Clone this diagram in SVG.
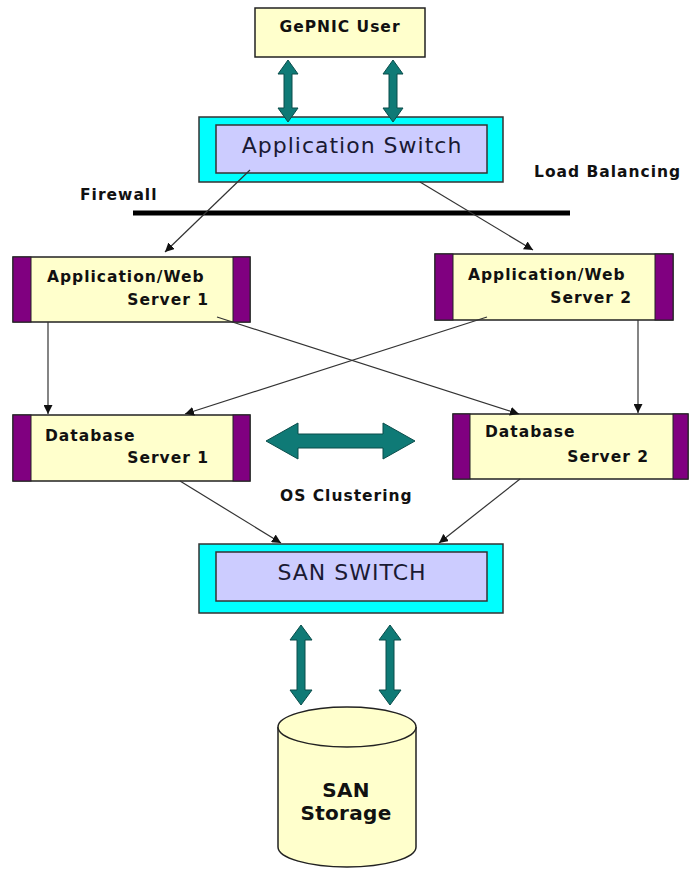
<svg xmlns="http://www.w3.org/2000/svg" width="689" height="871" viewBox="0 0 689 871">
<style>
.lbl{font-family:"DejaVu Sans",Verdana,sans-serif;font-weight:bold;font-size:15.5px;letter-spacing:1px;fill:#111}
.sw{font-family:"DejaVu Sans",Verdana,sans-serif;font-size:22px;letter-spacing:1px;fill:#1a1a33}
.node{fill:#ffffcc;stroke:#222;stroke-width:1.5}
.bar{fill:#800080;stroke:#222;stroke-width:1}
.outer{fill:#00ffff;stroke:#333;stroke-width:1.5}
.inner{fill:#ccccff;stroke:#333;stroke-width:1.5}
.big{fill:#0f7a76;stroke:#0a4d4b;stroke-width:1}
.con{stroke:#333;stroke-width:1.2;fill:none;marker-end:url(#ah)}
</style>
<defs>
<marker id="ah" viewBox="0 0 10 10" refX="10" refY="5" markerWidth="9" markerHeight="9" markerUnits="userSpaceOnUse" orient="auto">
<path d="M0,0 L10,5 L0,10 Z" fill="#111"/>
</marker>
</defs>
<rect width="689" height="871" fill="#fff"/>

<g id="user">
<rect class="node" x="255" y="8" width="170" height="49"/>
<text class="lbl" x="340" y="32" text-anchor="middle">GePNIC User</text>
</g>

<g id="appswitch">
<rect class="outer" x="199" y="117" width="304" height="65"/>
<rect class="inner" x="216" y="125" width="271" height="48"/>
<text class="sw" x="352" y="153" text-anchor="middle">Application Switch</text>
</g>

<g id="firewall">
<line x1="133" y1="213" x2="570" y2="213" stroke="#000" stroke-width="5"/>
<text class="lbl" x="80" y="200">Firewall</text>
</g>
<text class="lbl" x="534" y="177">Load Balancing</text>

<g id="app1">
<rect class="node" x="13" y="257" width="237" height="65"/>
<rect class="bar" x="13" y="257" width="18" height="65"/>
<rect class="bar" x="233" y="257" width="17" height="65"/>
<text class="lbl" x="47" y="282">Application/Web</text>
<text class="lbl" x="209" y="305" text-anchor="end">Server 1</text>
</g>

<g id="app2">
<rect class="node" x="435" y="254" width="238" height="66"/>
<rect class="bar" x="435" y="254" width="18" height="66"/>
<rect class="bar" x="655" y="254" width="18" height="66"/>
<text class="lbl" x="468" y="280">Application/Web</text>
<text class="lbl" x="632" y="303" text-anchor="end">Server 2</text>
</g>

<g id="db1">
<rect class="node" x="13" y="415" width="237" height="66"/>
<rect class="bar" x="13" y="415" width="18" height="66"/>
<rect class="bar" x="233" y="415" width="17" height="66"/>
<text class="lbl" x="45" y="441">Database</text>
<text class="lbl" x="209" y="463" text-anchor="end">Server 1</text>
</g>

<g id="db2">
<rect class="node" x="453" y="414" width="235" height="65"/>
<rect class="bar" x="453" y="414" width="17" height="65"/>
<rect class="bar" x="673" y="414" width="15" height="65"/>
<text class="lbl" x="485" y="437">Database</text>
<text class="lbl" x="649" y="462" text-anchor="end">Server 2</text>
</g>

<text class="lbl" x="280" y="501">OS Clustering</text>

<g id="sanswitch">
<rect class="outer" x="199" y="544" width="304" height="69"/>
<rect class="inner" x="216" y="552" width="271" height="49"/>
<text class="sw" x="352" y="580" text-anchor="middle">SAN SWITCH</text>
</g>

<g id="storage">
<path class="node" d="M278,727 L278,847 A69,20 0 0 0 416,847 L416,727"/>
<ellipse class="node" cx="347" cy="727" rx="69" ry="20"/>
<text class="lbl" x="346" y="797" text-anchor="middle" style="font-size:20px;letter-spacing:0.3px">SAN</text>
<text class="lbl" x="346" y="820" text-anchor="middle" style="font-size:20px;letter-spacing:0.3px">Storage</text>
</g>

<g id="connectors">
<path class="big" d="M288,60 L298,74 L292,74 L292,108 L298,108 L288,122 L278,108 L284,108 L284,74 L278,74 Z"/>
<path class="big" d="M393,60 L403,74 L397,74 L397,108 L403,108 L393,122 L383,108 L389,108 L389,74 L383,74 Z"/>
<path class="big" d="M301,625 L312,640 L305,640 L305,690 L312,690 L301,705 L290,690 L297,690 L297,640 L290,640 Z"/>
<path class="big" d="M390,625 L401,640 L394,640 L394,690 L401,690 L390,705 L379,690 L386,690 L386,640 L379,640 Z"/>
<path class="big" d="M266,441 L298,423 L298,434 L383,434 L383,423 L415,441 L383,459 L383,448 L298,448 L298,459 Z"/>
<line class="con" x1="250" y1="170" x2="165" y2="252"/>
<line class="con" x1="420" y1="182" x2="533" y2="250"/>
<line class="con" x1="48" y1="322" x2="48" y2="414"/>
<line class="con" x1="217" y1="317" x2="519" y2="414"/>
<line class="con" x1="487" y1="317" x2="185" y2="414"/>
<line class="con" x1="638" y1="320" x2="638" y2="413"/>
<line class="con" x1="180" y1="481" x2="281" y2="543"/>
<line class="con" x1="520" y1="479" x2="439" y2="543"/>
</g>
</svg>
